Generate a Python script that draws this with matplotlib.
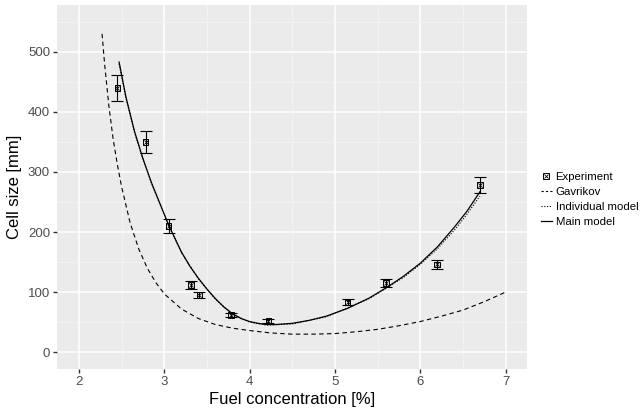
import numpy as np
import matplotlib.pyplot as plt
from matplotlib.lines import Line2D

# experiment
exp_x = [2.45, 2.78, 3.05, 3.31, 3.41, 3.78, 4.22, 5.15, 5.60, 6.20, 6.70]
exp_y = [440, 350, 210, 112, 95, 62, 52, 83, 115, 146, 278]
exp_err = [22, 18, 11, 6, 5, 4, 4, 5, 7, 8, 13]

# Gavrikov correlation
gav_x = [2.27, 2.30, 2.35, 2.40, 2.45, 2.50, 2.60, 2.70, 2.80, 2.90, 3.00, 3.20, 3.40,
         3.60, 3.80, 4.00, 4.25, 4.50, 4.75, 5.00, 5.25, 5.50, 5.75, 6.00, 6.25,
         6.50, 6.75, 7.00]
gav_y = [530, 480, 410, 355, 312, 275, 215, 172, 140, 116, 97, 72, 56,
         46, 40, 36, 32, 30, 30, 31, 34, 38, 44, 51, 60,
         70, 84, 100]

# main model
main_x = [2.47, 2.55, 2.65, 2.75, 2.85, 2.95, 3.05, 3.20, 3.30, 3.40, 3.50, 3.60,
          3.70, 3.80, 3.90, 4.00, 4.10, 4.20, 4.30, 4.50, 4.70, 4.90, 5.15,
          5.40, 5.60, 5.80, 6.00, 6.20, 6.40, 6.55, 6.70]
main_y = [483, 425, 368, 322, 282, 247, 212, 167, 143, 123, 105, 89,
          75, 64, 56, 51, 48, 46, 46, 48, 53, 60, 73,
          90, 107, 126, 148, 175, 208, 235, 267]

# individual model
ind_x = [2.47, 2.55, 2.65, 2.75, 2.85, 2.95, 3.05, 3.20, 3.40, 3.60, 3.80, 4.00,
         4.20, 4.50, 4.90, 5.40, 5.80, 6.00, 6.20, 6.40, 6.55, 6.70]
ind_y = [480, 423, 366, 321, 281, 246, 211, 166, 122, 88, 63, 50,
         45, 47, 59, 89, 124, 146, 172, 203, 230, 260]

plt.rcParams['font.family'] = ['Liberation Sans', 'DejaVu Sans']

fig = plt.figure(figsize=(6.42, 4.09), dpi=100)
ax = fig.add_axes([57 / 642, 1 - 369 / 409, 470 / 642, 364 / 409])
ax.set_facecolor('#ebebeb')

ax.set_xlim(1.742, 7.252)
ax.set_ylim(-28, 578)
ax.set_xticks([2, 3, 4, 5, 6, 7])
ax.set_yticks([0, 100, 200, 300, 400, 500])
ax.set_xticks([2.5, 3.5, 4.5, 5.5, 6.5], minor=True)
ax.set_yticks([50, 150, 250, 350, 450, 550], minor=True)
ax.grid(which='major', color='white', lw=1.1)
ax.grid(which='minor', color='#f5f5f5', lw=0.55)
ax.set_axisbelow(True)
for s in ax.spines.values():
    s.set_visible(False)
ax.tick_params(which='major', length=3, width=1, color='#333333',
               labelsize=9.5, labelcolor='#4d4d4d', pad=2)
ax.tick_params(which='minor', length=0)

ax.plot(gav_x, gav_y, color='black', lw=0.8, ls=(0, (4, 3)))
ax.plot(ind_x, ind_y, color='black', lw=0.8, ls=(0, (1, 1.5)))
ax.plot(main_x, main_y, color='black', lw=0.9)
ax.errorbar(exp_x, exp_y, yerr=exp_err, fmt='none', ecolor='black',
            elinewidth=0.8, capsize=4, capthick=0.8)
ax.scatter(exp_x, exp_y, marker='s', s=16, facecolors='none',
           edgecolors='black', linewidths=0.7, zorder=5)
ax.scatter(exp_x, exp_y, marker='x', s=9, color='black', linewidths=0.6, zorder=5)

ax.set_xlabel('Fuel concentration [%]', fontsize=12, labelpad=3)
ax.set_ylabel('Cell size [mm]', fontsize=12, labelpad=4)

handles = [
    (Line2D([], [], marker='s', ls='none', markersize=4, mfc='none', mec='black', mew=0.7),
     Line2D([], [], marker='x', ls='none', markersize=3, color='black', mew=0.6)),
    Line2D([], [], color='black', lw=0.8, ls=(0, (2, 2))),
    Line2D([], [], color='black', lw=0.8, ls=(0, (1, 1.5))),
    Line2D([], [], color='black', lw=0.9),
]
labels = ['Experiment', 'Gavrikov', 'Individual model', 'Main model']
leg = fig.legend(handles, labels, loc='upper left', bbox_to_anchor=(535 / 642, 1 - 166 / 409),
                 frameon=False, fontsize=8.2, handlelength=1.0, handletextpad=0.3,
                 labelspacing=0.45, borderpad=0)

fig.savefig('out.png', dpi=100)
